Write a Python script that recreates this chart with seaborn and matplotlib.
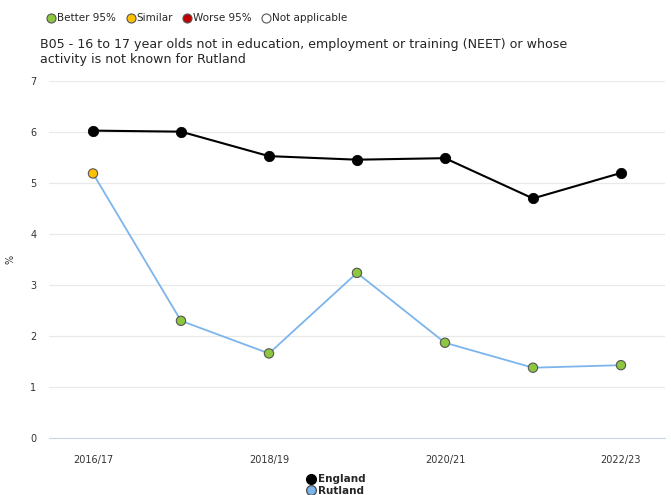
import pandas as pd
import matplotlib.pyplot as plt
import seaborn as sns
from matplotlib.lines import Line2D

# data
periods = ["2016/17", "2017/18", "2018/19", "2019/20", "2020/21", "2021/22", "2022/23"]
england = [6.03, 6.01, 5.53, 5.46, 5.49, 4.70, 5.20]
rutland = [5.19, 2.30, 1.66, 3.24, 1.87, 1.38, 1.43]
rutland_sig = ["Similar", "Better 95%", "Better 95%", "Better 95%", "Better 95%", "Better 95%", "Better 95%"]

sig_colors = {"Better 95%": "#8dc63f", "Similar": "#ffc000", "Worse 95%": "#c00000", "Not applicable": "#ffffff"}

df = pd.DataFrame({"period": periods, "England": england, "Rutland": rutland, "sig": rutland_sig})
df["x"] = range(len(df))

sns.set_style("white")
plt.rcParams["font.family"] = ["DejaVu Sans"]

fig = plt.figure(figsize=(6.71, 4.95), dpi=100)
ax = fig.add_axes([0.073, 0.115, 0.918, 0.721])

sns.lineplot(data=df, x="x", y="England", color="black", linewidth=1.5, ax=ax, zorder=3)
sns.scatterplot(data=df, x="x", y="England", color="black", s=55, edgecolor="black", ax=ax, zorder=4)
sns.lineplot(data=df, x="x", y="Rutland", color="#7cb5ec", linewidth=1.3, ax=ax, zorder=3)
sns.scatterplot(data=df, x="x", y="Rutland", hue="sig", palette=sig_colors, s=45,
                edgecolor="#555555", linewidth=0.8, ax=ax, zorder=4, legend=False)

ax.set_xlim(-0.5, len(periods) - 0.5)
ax.set_ylim(0, 7)
ax.set_yticks(range(0, 8))
ax.set_xticks(range(0, len(periods), 2))
ax.set_xticklabels(periods[::2])
ax.set_xticks(range(len(periods)), minor=True)
ax.tick_params(axis="both", labelsize=7, colors="#333333", length=0, pad=9)
ax.tick_params(axis="x", which="both", length=3, color="#ccd6eb", direction="out")
ax.grid(axis="y", color="#e9e9e9", linewidth=0.9)
ax.set_axisbelow(True)
for side in ["top", "right", "left"]:
    ax.spines[side].set_visible(False)
ax.spines["bottom"].set_color("#ccd6eb")
ax.set_xlabel("")
ax.set_ylabel("%", fontsize=7, color="#333333")
ax.yaxis.set_label_coords(-0.055, 0.5)

fig.text(0.06, 0.867, "B05 - 16 to 17 year olds not in education, employment or training (NEET) or whose\n"
         "activity is not known for Rutland", fontsize=9.1, va="bottom", ha="left", linespacing=1.15)

sig_handles = [Line2D([], [], marker="o", linestyle="", markersize=6.5, markerfacecolor=c,
                      markeredgecolor="#555555", markeredgewidth=0.8) for c in sig_colors.values()]
fig.legend(sig_handles, list(sig_colors.keys()), loc="upper left", bbox_to_anchor=(0.055, 0.992),
           ncol=4, frameon=False, fontsize=7.5, handletextpad=0.05, columnspacing=0.9, handlelength=1)

area_handles = [Line2D([], [], marker="o", color="black", markersize=7, linestyle=""),
                Line2D([], [], marker="o", color="#7cb5ec", markeredgecolor="#555555", markersize=7, linestyle="")]
fig.legend(area_handles, ["England", "Rutland"], loc="lower center", bbox_to_anchor=(0.5, -0.02),
           ncol=1, frameon=False, handletextpad=0.2, labelspacing=0.1, handlelength=1,
           prop={"weight": "bold", "size": 7.5})

fig.savefig("out.png", dpi=100)
